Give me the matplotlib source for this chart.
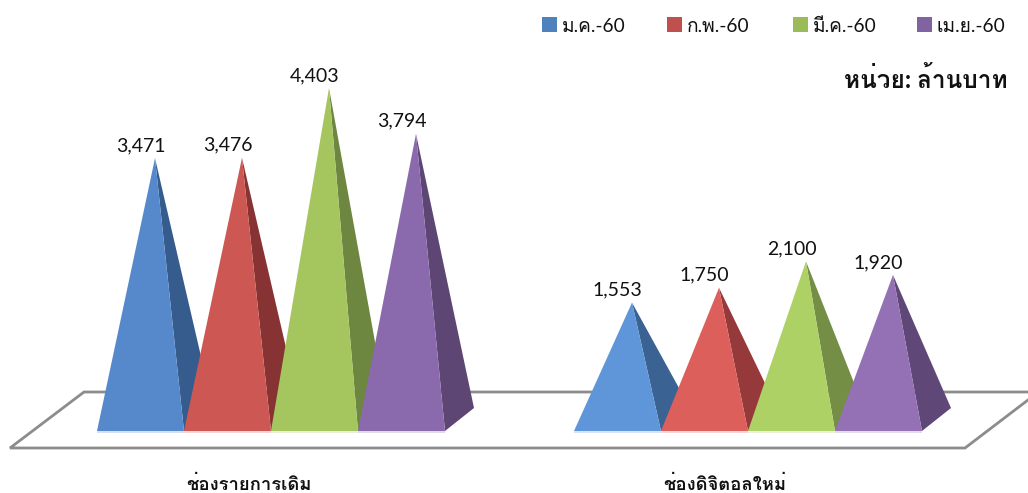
import matplotlib
matplotlib.use('Agg')
import matplotlib.pyplot as plt

# Lato for digits and punctuation, Loma picks up the Thai glyphs
plt.rcParams['font.family'] = ['Lato', 'Loma', 'DejaVu Sans']

months = ['ม.ค.-60', 'ก.พ.-60', 'มี.ค.-60', 'เม.ย.-60']
groups = ['ช่องรายการเดิม', 'ช่องดิจิตอลใหม่']
legacy = [3471, 3476, 4403, 3794]
digital = [1553, 1750, 2100, 1920]
legend_colors = ['#4F81BD', '#C0504D', '#9BBB59', '#8064A2']
front_a = ['#5589CB', '#CC5753', '#A5C65E', '#8A6AAD']
side_a = ['#355C8C', '#873333', '#6D8640', '#5D4674']
front_b = ['#5F96D9', '#DC5F5B', '#AED166', '#9470B5']
side_b = ['#3A6394', '#96393A', '#748E45', '#5F4878']

SCALE = 0.0753
WIDTH = 87
DX, DY = 29, 23
BASE_Y = 431


def draw_group(ax, left, values, fronts, sides):
	for i, v in enumerate(values):
		x0 = left + i*WIDTH
		x1 = x0 + WIDTH
		cx = x0 + (WIDTH + DX)/2
		cy = BASE_Y - DY/2
		top = cy - v*SCALE
		ax.fill([x1, x1+DX, cx], [BASE_Y, BASE_Y-DY, top], color=sides[i], lw=0, zorder=2+i)
		ax.fill([x0, x1, cx], [BASE_Y, BASE_Y, top], color=fronts[i], lw=0, zorder=2+i)
		ax.plot([x0, x1], [BASE_Y+1, BASE_Y+1], color=fronts[i], alpha=0.3, lw=1.2, zorder=2+i, solid_capstyle='butt')
		# the value sits over the middle of the front face, not over the apex
		ax.text(x0 + WIDTH/2, top-4, format(v, ','), ha='center', va='bottom', fontsize=14, color='#111111', zorder=10)


fig = plt.figure(figsize=(10.28, 4.93), dpi=100)
ax = fig.add_axes([0, 0, 1, 1])
ax.set_xlim(0, 1028)
ax.set_ylim(493, 0)
ax.axis('off')

# floor outline, open at the right edge
ax.plot([1028, 84, 10, 965, 1028], [392, 392, 448, 448, 400], color='#8C8C8C', lw=2, zorder=1, solid_joinstyle='miter')

draw_group(ax, 97, legacy, front_a, side_a)
draw_group(ax, 574, digital, front_b, side_b)

ax.text(249, 484, groups[0], ha='center', va='center', fontsize=13.3, fontweight='bold', color='#111111')
ax.text(725, 484, groups[1], ha='center', va='center', fontsize=13.3, fontweight='bold', color='#111111')

legend_x = [542, 667, 793, 917]
for x, c, m in zip(legend_x, legend_colors, months):
	ax.fill([x, x+15, x+15, x], [17, 17, 32, 32], color=c, lw=0)
	ax.text(x+20, 26, m, ha='left', va='center', fontsize=13.8, color='#111111')

ax.text(1008, 79, 'หน่วย: ล้านบาท', ha='right', va='center', fontsize=17.6, fontweight='bold', color='#111111')

fig.savefig('out.png', dpi=100)
